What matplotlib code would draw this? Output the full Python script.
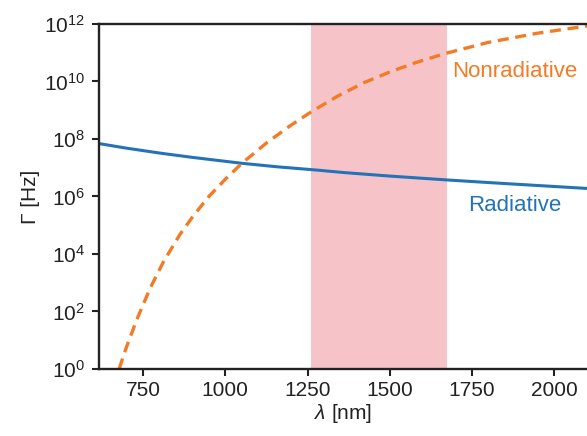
import numpy as np
import matplotlib
matplotlib.use("Agg")
import matplotlib.pyplot as plt

plt.rcParams['font.family'] = ['Liberation Sans', 'DejaVu Sans']
plt.rcParams['mathtext.fontset'] = 'custom'
plt.rcParams['mathtext.it'] = 'Liberation Sans:italic'
plt.rcParams['mathtext.rm'] = 'Liberation Sans'

# Radiative rate, log10(Hz), vs wavelength (nm)
rad_wl = [616, 700, 807, 900, 1050, 1160, 1277, 1363, 1500, 1681, 1850, 2100]
rad_log = [7.84, 7.68, 7.50, 7.36, 7.155, 7.03, 6.92, 6.83, 6.71, 6.57, 6.45, 6.28]

# Nonradiative rate, log10(Hz), vs wavelength (nm)
nonrad_wl = [677, 700, 731, 771, 812, 862, 903, 950, 1000, 1050, 1125, 1196,
             1262, 1340, 1420, 1500, 1580, 1671, 1800, 1950, 2100]
nonrad_log = [0.0, 0.78, 1.72, 2.80, 3.73, 4.68, 5.33, 6.00, 6.60, 7.15, 7.86,
              8.45, 8.95, 9.48, 9.95, 10.33, 10.66, 10.98, 11.36, 11.68, 11.93]

band = (1262, 1673)
xticks = [750, 1000, 1250, 1500, 1750, 2000]
yticks = [1e0, 1e2, 1e4, 1e6, 1e8, 1e10, 1e12]

fig = plt.figure(figsize=(5.87, 4.36), dpi=100)
ax = fig.add_axes([0.1687, 0.1537, 0.8313, 0.7913])

ax.axvspan(band[0], band[1], color='#f6c4c8', lw=0, zorder=0)

ax.plot(rad_wl, 10 ** np.array(rad_log), color='#2472b8', lw=2.2)
ax.plot(nonrad_wl, 10 ** np.array(nonrad_log), color='#f47b25',
        lw=2.4, ls=(0, (3.3, 2.0)))

ax.set_yscale('log')
ax.set_xlim(616, 2100)
ax.set_ylim(1e0, 1e12)
ax.set_xticks(xticks)
ax.set_yticks(yticks)
ax.minorticks_off()
ax.tick_params(axis='both', labelsize=15, length=5, width=1.5, direction='out',
               colors='#222222')
ax.tick_params(axis='y', pad=5)
ax.tick_params(axis='x', pad=4)
for s in ['left', 'bottom', 'top']:
    ax.spines[s].set_linewidth(1.7)
    ax.spines[s].set_color('#222222')
ax.spines['right'].set_visible(False)

ax.set_xlabel(r'$\lambda$ [nm]', fontsize=15, labelpad=1, color='#222222')
ax.set_ylabel('Γ [Hz]', fontsize=15, labelpad=3, color='#222222')

ax.text(1879, 10 ** 10.33, 'Nonradiative', color='#f47b25', fontsize=16,
        ha='center', va='center')
ax.text(1879, 10 ** 5.70, 'Radiative', color='#2472b8', fontsize=16,
        ha='center', va='center')

fig.savefig('out.png', dpi=100)
